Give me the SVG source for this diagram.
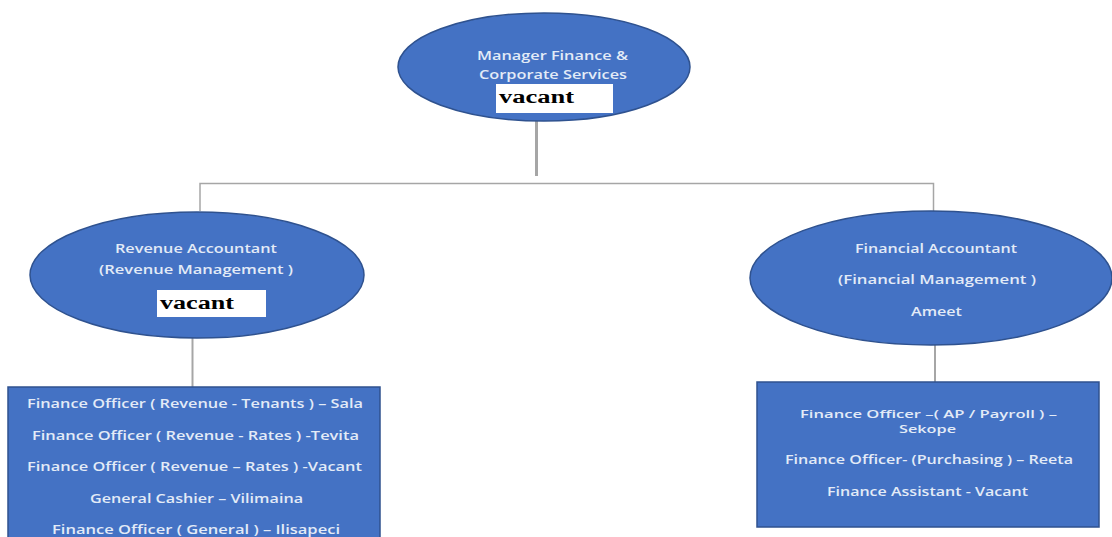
<svg xmlns="http://www.w3.org/2000/svg" width="1112" height="537" viewBox="0 0 1112 537">
<style>
.node{fill:#4472C4;stroke:#2F528F;stroke-width:1.5}
.t{font-family:"Open Sans","Liberation Sans",sans-serif;font-weight:600;fill:#E3EBF7;text-anchor:middle;font-size:13px}
.sm{font-size:11px}
.vac{font-family:"Liberation Serif",serif;font-weight:bold;fill:#000;font-size:18px}
.lbl{fill:#fff}
.c{stroke:#A6A6A6;fill:none}
</style>
<rect width="1112" height="537" fill="#fff"/>
<g id="connectors">
<line class="c" x1="536.5" y1="121" x2="536.5" y2="176" stroke-width="3"/>
<polyline class="c" points="200,211 200,183.5 933.5,183.5 933.5,212" stroke-width="1.5"/>
<line class="c" x1="192.5" y1="338" x2="192.5" y2="387" stroke-width="2"/>
<line class="c" x1="935" y1="345" x2="935" y2="382" stroke-width="2"/>
</g>
<g id="manager">
<ellipse class="node" cx="544" cy="67" rx="146" ry="54"/>
<text class="t" x="552.5" y="60" textLength="151" lengthAdjust="spacingAndGlyphs">Manager Finance &amp;</text>
<text class="t" x="553" y="79" textLength="148" lengthAdjust="spacingAndGlyphs">Corporate Services</text>
<rect class="lbl" x="496" y="84" width="117" height="29"/>
<text class="vac" x="499" y="103" textLength="75" lengthAdjust="spacingAndGlyphs">vacant</text>
</g>
<g id="revenue-accountant">
<ellipse class="node" cx="197" cy="275" rx="167" ry="63"/>
<text class="t" x="196" y="253" textLength="162" lengthAdjust="spacingAndGlyphs">Revenue Accountant</text>
<text class="t" x="196" y="274" textLength="194" lengthAdjust="spacingAndGlyphs">(Revenue Management )</text>
<rect class="lbl" x="157" y="290" width="109" height="27"/>
<text class="vac" x="160" y="309" textLength="74" lengthAdjust="spacingAndGlyphs">vacant</text>
</g>
<g id="financial-accountant">
<ellipse class="node" cx="931" cy="278" rx="181" ry="67"/>
<text class="t" x="936" y="253" textLength="162" lengthAdjust="spacingAndGlyphs">Financial Accountant</text>
<text class="t" x="937" y="284" textLength="198" lengthAdjust="spacingAndGlyphs">(Financial Management )</text>
<text class="t" x="936.5" y="316" textLength="51" lengthAdjust="spacingAndGlyphs">Ameet</text>
</g>
<g id="revenue-staff">
<rect class="node" x="8" y="387" width="372" height="160"/>
<text class="t" x="195" y="408" textLength="336" lengthAdjust="spacingAndGlyphs">Finance Officer ( Revenue - Tenants ) – Sala</text>
<text class="t" x="195.5" y="440" textLength="327" lengthAdjust="spacingAndGlyphs">Finance Officer ( Revenue - Rates ) -Tevita</text>
<text class="t" x="194.5" y="471" textLength="335" lengthAdjust="spacingAndGlyphs">Finance Officer ( Revenue – Rates ) -Vacant</text>
<text class="t" x="196.5" y="503" textLength="213" lengthAdjust="spacingAndGlyphs">General Cashier – Vilimaina</text>
<text class="t" x="196" y="534" textLength="288" lengthAdjust="spacingAndGlyphs">Finance Officer ( General ) – Ilisapeci</text>
</g>
<g id="financial-staff">
<rect class="node" x="757" y="382" width="342" height="145"/>
<text class="t sm" x="928.5" y="418" textLength="257" lengthAdjust="spacingAndGlyphs">Finance Officer –( AP / Payroll ) –</text>
<text class="t sm" x="927.5" y="433" textLength="57" lengthAdjust="spacingAndGlyphs">Sekope</text>
<text class="t" x="929" y="464" textLength="288" lengthAdjust="spacingAndGlyphs">Finance Officer- (Purchasing ) – Reeta</text>
<text class="t" x="927.5" y="496" textLength="201" lengthAdjust="spacingAndGlyphs">Finance Assistant - Vacant</text>
</g>
</svg>
